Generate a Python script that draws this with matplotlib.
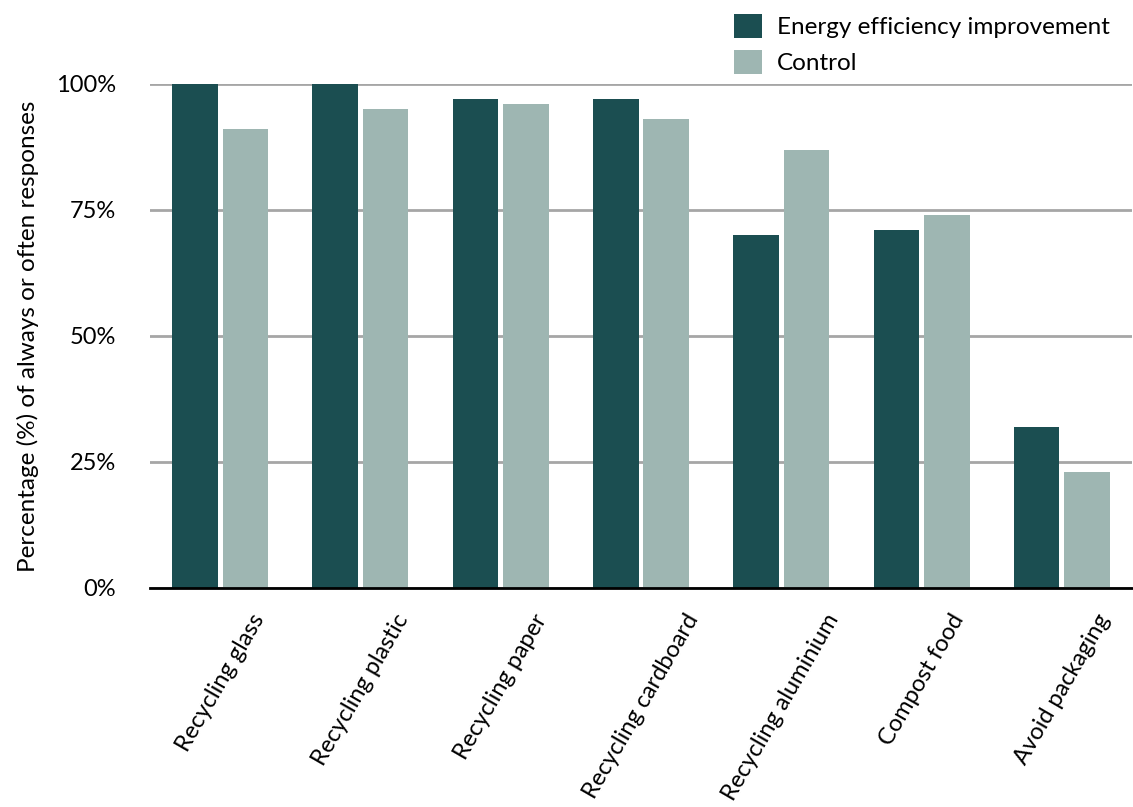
import matplotlib
matplotlib.use("Agg")
import matplotlib.pyplot as plt
import numpy as np

categories = ["Recycling glass", "Recycling plastic", "Recycling paper",
              "Recycling cardboard", "Recycling aluminium", "Compost food",
              "Avoid packaging"]
energy_efficiency = [100, 100, 97, 97, 70, 71, 32]
control = [91, 95, 96, 93, 87, 74, 23]
y_ticks = [0, 25, 50, 75, 100]
y_tick_labels = ["0%", "25%", "50%", "75%", "100%"]

plt.rcParams["font.family"] = ["Lato", "DejaVu Sans"]

DARK = "#1b4e51"
LIGHT = "#9eb6b2"

fig = plt.figure(figsize=(11.33, 8.07), dpi=100)
ax = fig.add_axes([150 / 1133, 1 - 588 / 807, 982 / 1133, (588 - 84) / 807])

x = np.arange(len(categories))
w = 0.325
off = 0.18
ax.bar(x - off, energy_efficiency, width=w, color=DARK, zorder=3,
       label="Energy efficiency improvement")
ax.bar(x + off, control, width=w, color=LIGHT, zorder=3, label="Control")

ax.set_xlim(-0.5, len(categories) - 0.5)
ax.set_ylim(0, 100)
ax.set_yticks(y_ticks)
ax.set_yticklabels(y_tick_labels, fontsize=17)
ax.yaxis.grid(True, color="#a6a6a6", linewidth=2, zorder=0)
ax.tick_params(axis="y", length=0, pad=24.5)
ax.tick_params(axis="x", length=0, pad=16)
ax.set_xticks(x)
ax.set_xticklabels(categories, rotation=60, ha="center", va="top", fontsize=17)

for s in ["top", "right", "left"]:
    ax.spines[s].set_visible(False)
ax.spines["bottom"].set_color("black")
ax.spines["bottom"].set_linewidth(2)
ax.spines["bottom"].set_zorder(4)

ax.set_ylabel("Percentage (%) of always or often responses", fontsize=17.5,
              labelpad=12)

ax.legend(loc="upper left", bbox_to_anchor=(713 / 1133, 1 + 7 / 807),
          bbox_transform=fig.transFigure, frameon=False, fontsize=17.5,
          handlelength=1.15, handleheight=1.15, handletextpad=0.62,
          labelspacing=0.5, borderpad=0.35)

fig.savefig("out.png", dpi=100)
